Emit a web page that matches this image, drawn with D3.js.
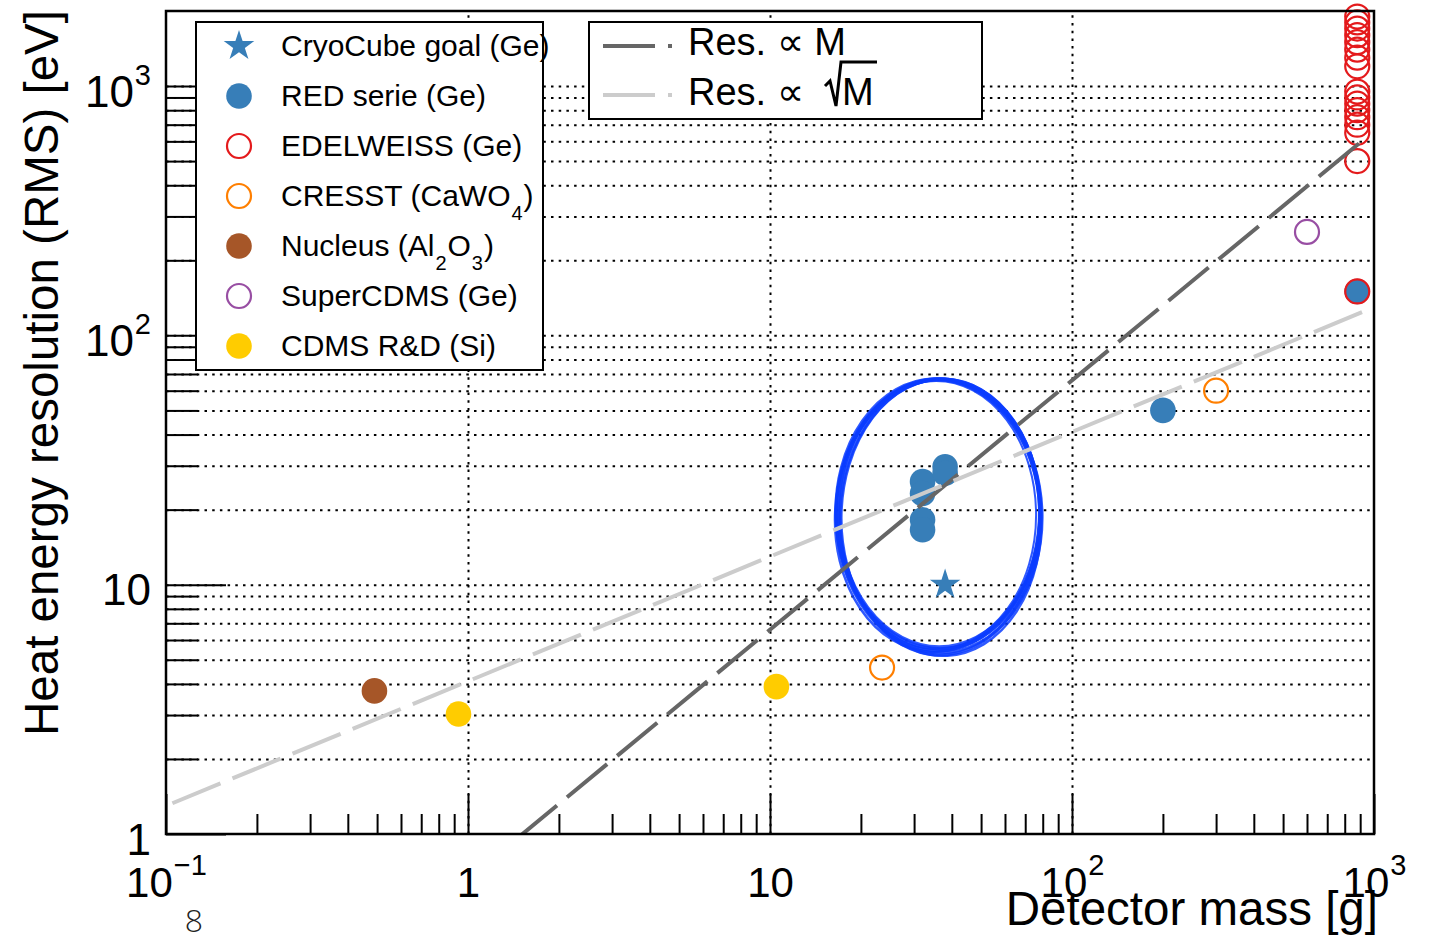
<!DOCTYPE html>
<html><head><meta charset="utf-8">
<script src="https://cdn.jsdelivr.net/npm/d3@7"></script>
<style>
html,body{margin:0;padding:0;background:#fff;}
svg{display:block;}
text{font-family:"Liberation Sans", Arial, Helvetica, sans-serif;fill:#000;}
</style></head>
<body><svg id="chart" width="1435" height="942"></svg>
<script>
// ---------------- data ----------------
const massDomain = [0.1, 1000];          // g
const resDomain  = [1, 2000];            // eV

const cryoMass = [38];
const cryoRes  = [10];

const redMass = [32, 32, 32, 32, 38, 38, 200, 880];
const redRes  = [25.9, 23.2, 18.2, 16.6, 29.7, 28.0, 50, 150];

const edelMass = [880, 880, 880, 880, 880, 880, 880, 880, 880, 880, 880, 880, 880, 880, 880, 880, 880];
const edelRes  = [1900, 1800, 1700, 1600, 1500, 1400, 1300, 1200, 950, 900, 850, 800, 750, 700, 650, 500, 150];

const cresstMass = [23.5, 300];
const cresstRes  = [4.65, 60];

const nucleusMass = [0.49];
const nucleusRes  = [3.75];

const superMass = [600];
const superRes  = [260];

const cdmsMass = [0.93, 10.5];
const cdmsRes  = [3.03, 3.9];

// scaling laws: Res = coef * M^power
const fitLabels = ["Res. \u221D M", "Res. \u221D \u221AM"];
const fitCoef   = [0.66, 4.1];
const fitPower  = [1, 0.5];
const fitMassMin = [0.1, 0.105];
const fitMassMax = [900, 960];

const legendLabels = ["CryoCube goal (Ge)", "RED serie (Ge)", "EDELWEISS (Ge)", "CRESST (CaWO4)", "Nucleus (Al2O3)", "SuperCDMS (Ge)", "CDMS R&D (Si)"];

// annotation ellipse centre (mass, res)
const ringMass = [36.3];
const ringRes  = [19.4];

// ---------------- styles ----------------
const C = {
  blue: "#377eb8", red: "#e41a1c", orange: "#ff7f00", brown: "#a65628",
  purple: "#984ea3", yellow: "#ffcc00", dark: "#666666", light: "#cccccc", ring: "#0a3cff"
};

const L = 166, R = 1374, T = 11, B = 834;
const W = R - L, H = B - T;
const svg = d3.select("#chart");
const x = d3.scaleLog().domain(massDomain).range([L, R]);
const y = d3.scaleLog().domain(resDomain).range([B, T]);

svg.append("defs").append("clipPath").attr("id", "plotClip")
  .append("rect").attr("x", L).attr("y", T).attr("width", W).attr("height", H);

const isDecade = v => Math.abs(Math.log10(v) - Math.round(Math.log10(v))) < 1e-9;
const xTicks = x.ticks();
const xMajor = xTicks.filter(isDecade);
const xMinor = xTicks.filter(v => !isDecade(v));
const yTicks = y.ticks().filter(v => v <= 1000);
const yMajor = yTicks.filter(isDecade);
const yMinor = yTicks.filter(v => !isDecade(v));

// ---------------- grid ----------------
const dotted = g => {
  g.select(".domain").remove();
  g.selectAll("line").attr("stroke", "#000").attr("stroke-width", 2).attr("stroke-dasharray", "2.5,5.2");
};
svg.append("g").attr("transform", `translate(${L},0)`)
  .call(d3.axisLeft(y).tickValues(yTicks.filter(v => v > 1)).tickSize(-W).tickFormat(""))
  .call(dotted);
svg.append("g").attr("transform", `translate(0,${B})`)
  .call(d3.axisBottom(x).tickValues(xMajor.filter(v => v > massDomain[0] && v < massDomain[1])).tickSize(-H).tickFormat(""))
  .call(dotted);

// ---------------- hand drawn ring ----------------
const ringCx = x(ringMass[0]), ringCy = y(ringRes[0]);
const passes = [
  {dx: 0, dy: 0, rx: 101, ry: 134, rot: 0, w: 3.5},
  {dx: -1, dy: 1, rx: 102, ry: 135, rot: -2, w: 3.5},
  {dx: 1, dy: 2, rx: 100, ry: 136, rot: 2, w: 3},
  {dx: 0, dy: 3, rx: 103, ry: 137, rot: -1, w: 3},
  {dx: 2, dy: 4, rx: 100, ry: 138, rot: 1, w: 3},
  {dx: -2, dy: 3, rx: 102, ry: 136, rot: 3, w: 2.5},
  {dx: 1, dy: 5, rx: 101, ry: 138, rot: -3, w: 2.5},
  {dx: -3, dy: 2, rx: 100, ry: 134, rot: 0, w: 2}
];
svg.append("g").selectAll("ellipse").data(passes).join("ellipse")
  .attr("cx", 0).attr("cy", 0)
  .attr("transform", p => `translate(${ringCx + p.dx},${ringCy + p.dy}) rotate(${p.rot})`)
  .attr("rx", p => p.rx).attr("ry", p => p.ry)
  .attr("fill", "none").attr("stroke", C.ring).attr("stroke-width", p => p.w).attr("opacity", 0.85);

// ---------------- markers ----------------
const mk = svg.append("g");
function filled(mass, res, color) {
  mk.append("g").selectAll("circle").data(d3.zip(mass, res)).join("circle")
    .attr("cx", d => x(d[0])).attr("cy", d => y(d[1])).attr("r", 12.8).attr("fill", color);
}
function open(mass, res, color) {
  mk.append("g").selectAll("circle").data(d3.zip(mass, res)).join("circle")
    .attr("cx", d => x(d[0])).attr("cy", d => y(d[1])).attr("r", 12)
    .attr("fill", "none").attr("stroke", color).attr("stroke-width", 2.2);
}
const star = d3.symbol().type(d3.symbolStar).size(290);
mk.append("g").selectAll("path").data(d3.zip(cryoMass, cryoRes)).join("path")
  .attr("d", star).attr("transform", d => `translate(${x(d[0])},${y(d[1])})`).attr("fill", C.blue);
filled(redMass, redRes, C.blue);
open(edelMass, edelRes, C.red);
open(cresstMass, cresstRes, C.orange);
filled(nucleusMass, nucleusRes, C.brown);
open(superMass, superRes, C.purple);
filled(cdmsMass, cdmsRes, C.yellow);

// ---------------- scaling lines ----------------
const fitColors = [C.dark, C.light];
const lineGen = d3.line().x(d => x(d[0])).y(d => y(d[1]));
const fits = svg.append("g").attr("clip-path", "url(#plotClip)");
fitCoef.forEach((c, i) => {
  const pts = [fitMassMin[i], fitMassMax[i]].map(m => [m, c * Math.pow(m, fitPower[i])]);
  fits.append("path").attr("d", lineGen(pts)).attr("fill", "none")
    .attr("stroke", fitColors[i]).attr("stroke-width", 4).attr("stroke-dasharray", "52,13");
});

// ---------------- frame & axes ----------------
svg.append("rect").attr("x", L).attr("y", T).attr("width", W).attr("height", H)
  .attr("fill", "none").attr("stroke", "#000").attr("stroke-width", 2.5);

const tickStyle = g => { g.select(".domain").remove(); g.selectAll("line").attr("stroke", "#000").attr("stroke-width", 2); };
svg.append("g").attr("transform", `translate(0,${B})`)
  .call(d3.axisBottom(x).tickValues(xMinor).tickSize(-20).tickFormat("")).call(tickStyle);
const xMaj = svg.append("g").attr("transform", `translate(0,${B})`)
  .call(d3.axisBottom(x).tickValues(xMajor).tickSize(-40).tickFormat("")).call(tickStyle);
svg.append("g").attr("transform", `translate(${L},0)`)
  .call(d3.axisLeft(y).tickValues(yMinor).tickSize(-32).tickFormat("")).call(tickStyle);
const yMaj = svg.append("g").attr("transform", `translate(${L},0)`)
  .call(d3.axisLeft(y).tickValues(yMajor).tickSize(-60).tickFormat("")).call(tickStyle);

function powLabel(sel, v, supSize, supDy) {
  const e = Math.round(Math.log10(v));
  if (e === 0) { sel.append("tspan").text("1"); return; }
  if (e === 1) { sel.append("tspan").text("10"); return; }
  sel.append("tspan").text("10");
  sel.append("tspan").attr("font-size", supSize).attr("dy", supDy).attr("dx", 1).text(e < 0 ? "\u2212" + (-e) : String(e));
}
xMaj.selectAll(".tick").each(function(v) {
  const t = d3.select(this).append("text").attr("y", 63).attr("text-anchor", "middle")
    .attr("font-size", 42).attr("fill", "#000");
  powLabel(t, v, 29, -22);
});
yMaj.selectAll(".tick").each(function(v) {
  const t = d3.select(this).append("text").attr("x", -15).attr("y", 20).attr("text-anchor", "end")
    .attr("font-size", 44).attr("fill", "#000");
  powLabel(t, v, 29, -22);
});

// axis titles
svg.append("text").attr("transform", "translate(58,10) rotate(-90)").attr("text-anchor", "end")
  .attr("font-size", 47.5).text("Heat energy resolution (RMS) [eV]");
svg.append("text").attr("x", 1378).attr("y", 925).attr("text-anchor", "end")
  .attr("font-size", 47.5).text("Detector mass [g]");

// page number
svg.append("text").attr("x", 194).attr("y", 932).attr("text-anchor", "middle")
  .attr("font-size", 32).attr("font-weight", 300).style("fill", "#222")
  .style("font-family", "'Open Sans', 'Liberation Sans', sans-serif").text("8");

// ---------------- legend 1 ----------------
const lg = svg.append("g");
lg.append("rect").attr("x", 196).attr("y", 22).attr("width", 347).attr("height", 348)
  .attr("fill", "#fff").attr("stroke", "#000").attr("stroke-width", 2);
const legMarkers = [
  {type: "star", color: C.blue}, {type: "fill", color: C.blue}, {type: "open", color: C.red},
  {type: "open", color: C.orange}, {type: "fill", color: C.brown}, {type: "open", color: C.purple},
  {type: "fill", color: C.yellow}
];
legendLabels.forEach((lab, i) => {
  const cy = 46 + i * 50;
  const m = legMarkers[i];
  if (m.type === "star") lg.append("path").attr("d", star).attr("transform", `translate(239,${cy})`).attr("fill", m.color);
  else if (m.type === "fill") lg.append("circle").attr("cx", 239).attr("cy", cy).attr("r", 12.8).attr("fill", m.color);
  else lg.append("circle").attr("cx", 239).attr("cy", cy).attr("r", 12).attr("fill", "none").attr("stroke", m.color).attr("stroke-width", 2.2);
  const t = lg.append("text").attr("x", 281).attr("y", cy + 10).attr("font-size", 30);
  if (lab.includes("CaWO") || lab.includes("Al2")) {
    const parts = lab.match(/(\D+|\d+)/g);
    let pending = 0;
    parts.forEach(p => {
      if (/^\d+$/.test(p)) {
        t.append("tspan").attr("font-size", 20).attr("dy", 14 + pending).attr("dx", 1).text(p);
        pending = -14;
      } else {
        t.append("tspan").attr("dy", pending).attr("dx", pending ? 1 : 0).text(p);
        pending = 0;
      }
    });
  } else t.text(lab);
});

// ---------------- legend 2 ----------------
const lg2 = svg.append("g");
lg2.append("rect").attr("x", 589).attr("y", 22).attr("width", 393).attr("height", 97)
  .attr("fill", "#fff").attr("stroke", "#000").attr("stroke-width", 2);
[46, 95].forEach((ly, i) => {
  lg2.append("line").attr("x1", 603).attr("x2", 672).attr("y1", ly).attr("y2", ly)
    .attr("stroke", fitColors[i]).attr("stroke-width", 4).attr("stroke-dasharray", "52,13");
});
lg2.append("text").attr("x", 688).attr("y", 55).attr("font-size", 38).text(fitLabels[0]);
lg2.append("text").attr("x", 688).attr("y", 105).attr("font-size", 38).text(fitLabels[1].replace("\u221AM", ""));
lg2.append("path").attr("d", "M825,86 L830,81 L836,106 L841,62 L877,62").attr("fill", "none")
  .attr("stroke", "#000").attr("stroke-width", 3);
lg2.append("text").attr("x", 842).attr("y", 105).attr("font-size", 38).text("M");
</script>
</body></html>
